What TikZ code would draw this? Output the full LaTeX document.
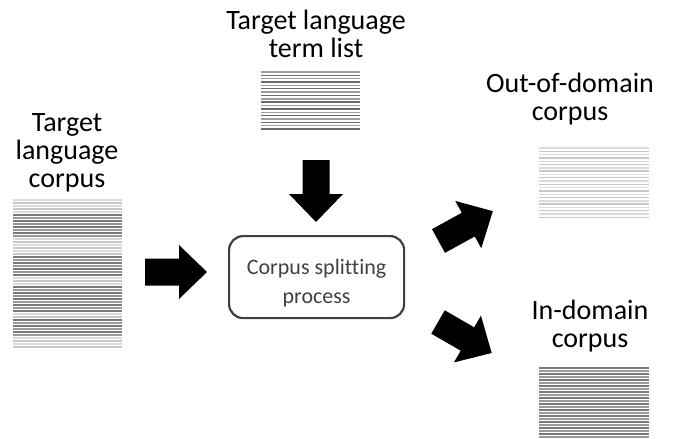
\documentclass[tikz,border=0pt]{standalone}
\usepackage{fontspec}
\setmainfont{Carlito}[Ligatures=NoCommon]
\begin{document}
\begin{tikzpicture}[x=1pt,y=-1pt,
  biglabel/.style={align=center,inner sep=0pt,anchor=base,
    font=\fontsize{28}{28}\selectfont},
  stepbox/.style={draw=black!75,line width=2.2pt,rounded corners=14pt,
    inner sep=0pt},
  steptext/.style={align=center,inner sep=0pt,anchor=base,text=black!75,
    font=\fontsize{22}{29}\selectfont},
  docarea/.style={inner sep=0pt,draw=none},
  rl/.style={line width=1.4pt},
  cA/.style={rl,draw=black!14},
  cB/.style={rl,draw=black!22},
  cC/.style={rl,draw=black!40},
  cD/.style={rl,draw=black!52},
  blockarrow/.pic={\fill[black] (0,-13.5) -- (34,-13.5) -- (34,-27) -- (62,0)
    -- (34,27) -- (34,13.5) -- (0,13.5) -- cycle;}
]
\useasboundingbox (0,0) rectangle (686,439);

% ---- source corpus (left) ----
\node[biglabel] (srclabel) at (67,187) {Target\\language\\corpus};
\foreach \s [count=\i from 0] in {A,B,A,B,A, D,C,D,C,D,C,D,C, A,B,A,B,A,B,
    D,C,D,C,D,C,D, A,B,A, D,C,D,C,D,C,D,C,D, A,B, D,C,D,C,D,C, A,B,A,B}
  \draw[c\s] (13,200+3*\i) -- (122,200+3*\i);
\node[docarea,minimum width=109,minimum height=150,anchor=north west]
  (src) at (13,199) {};

% ---- term list (top) ----
\node[biglabel] (termlabel) at (316,57) {Target language\\term list};
\foreach \i in {0,...,17}
  \draw[rl,draw=\ifodd\i black!58\else black!38\fi]
    (261,72+3.35*\i) -- (360,72+3.35*\i);
\node[docarea,minimum width=99,minimum height=58,anchor=north west]
  (terms) at (261,71) {};

% ---- splitting step ----
\node[stepbox,minimum width=175,minimum height=82,anchor=north west]
  (split) at (228,235) {};
\node[steptext] (splittext) at (split.center |- 0,303)
  {Corpus splitting\\process};

% ---- out-of-domain corpus ----
\node[biglabel] (outlabel) at (570,120) {Out-of-domain\\corpus};
\foreach \i in {0,...,21}
  \draw[\ifodd\i cB\else cA\fi] (539,148+3.3*\i) -- (649,148+3.3*\i);
\node[docarea,minimum width=110,minimum height=71,anchor=north west]
  (outc) at (539,147) {};

% ---- in-domain corpus ----
\node[biglabel] (inlabel) at (590,347) {In-domain\\corpus};
\foreach \i in {0,...,23}
  \draw[\ifodd\i cC\else cD\fi] (539,368+3*\i) -- (649,368+3*\i);
\node[docarea,minimum width=110,minimum height=71,anchor=north west]
  (inc) at (539,367) {};

% ---- block arrows between the parts ----
\pic at (145,272) {blockarrow};
\pic[rotate=-90] at (316,160) {blockarrow};
\pic[rotate=28.8] at (438.5,241) {blockarrow};
\pic[rotate=-30] at (438,322) {blockarrow};
\end{tikzpicture}
\end{document}
